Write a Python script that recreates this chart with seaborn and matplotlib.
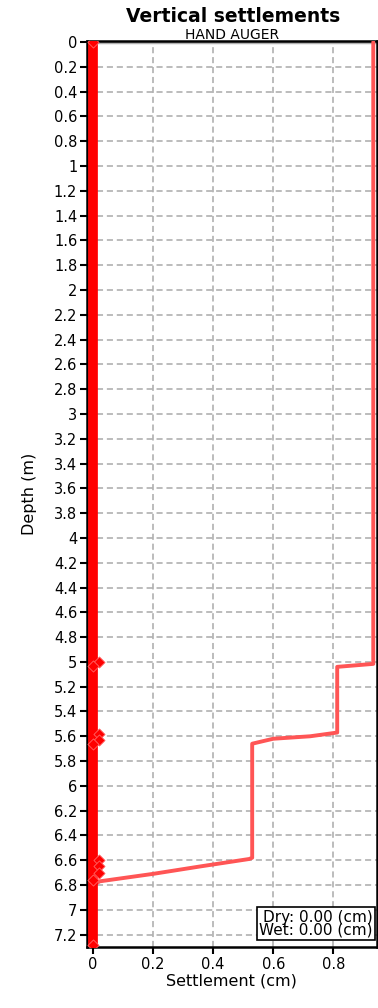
import numpy as np
import pandas as pd
import matplotlib
matplotlib.use("Agg")
import matplotlib.pyplot as plt
import seaborn as sns

# wet settlement profile (pink line)
wet_x = [0.933, 0.933, 0.813, 0.813, 0.723, 0.60, 0.53, 0.53, 0.52, 0.357, 0.20, 0.023, 0.0, 0.0]
wet_depth = [0.0, 5.016, 5.04, 5.57, 5.60, 5.62, 5.66, 6.58, 6.59, 6.65, 6.71, 6.77, 6.80, 7.3]

# dry settlement profile (thick red line at zero)
dry_x = [0.0, 0.0]
dry_depth = [0.0, 7.3]

# diamond markers along the dry profile
mark_x = [0.0, 0.02, 0.0, 0.02, 0.02, 0.0, 0.02, 0.02, 0.02, 0.0, 0.0]
mark_depth = [0.0, 5.0, 5.03, 5.58, 5.63, 5.66, 6.6, 6.65, 6.7, 6.76, 7.28]

xticks = [0, 0.2, 0.4, 0.6, 0.8]
yticks = [round(0.2 * i, 1) for i in range(37)]

sns.set_style("white")
plt.rcParams['font.family'] = ['DejaVu Sans']
plt.rcParams['text.color'] = 'black'
plt.rcParams['axes.labelcolor'] = 'black'
plt.rcParams['xtick.color'] = 'black'
plt.rcParams['ytick.color'] = 'black'

fig = plt.figure(figsize=(3.78, 10.08), dpi=100)
ax = fig.add_axes([0.230, 0.0605, 0.767, 0.899])

wet = pd.DataFrame({"x": wet_x, "depth": wet_depth})
dry = pd.DataFrame({"x": dry_x, "depth": dry_depth})
marks = pd.DataFrame({"x": mark_x, "depth": mark_depth})

ax.axhline(0, color="#b0b0b0", lw=2.5, zorder=1)
sns.lineplot(data=wet, x="x", y="depth", sort=False, estimator=None,
             color="#ff5555", lw=2.8, ax=ax, zorder=3)
sns.lineplot(data=dry, x="x", y="depth", sort=False, estimator=None,
             color="#ff0000", lw=7, ax=ax, zorder=4)
sns.scatterplot(data=marks, x="x", y="depth", marker="D", color="#ff0000",
                s=32, edgecolor="#ff6666", linewidth=0.6, ax=ax, zorder=5)

ax.set_xlim(-0.02, 0.945)
ax.set_ylim(7.3, -0.01)
ax.set_xticks(xticks)
ax.set_xticklabels([f"{v:g}" for v in xticks], fontsize=10.5)
ax.set_yticks(yticks)
ax.set_yticklabels([f"{v:g}" for v in yticks], fontsize=10.5)
ax.grid(True, color="#aaaaaa", ls=(0, (4, 2.5)), lw=1.1)
ax.set_axisbelow(True)
ax.tick_params(axis="both", direction="out", length=5, width=1.5, color="black",
               left=True, bottom=True, pad=2)
for s in ["left", "bottom", "top", "right"]:
    ax.spines[s].set_color("black")
    ax.spines[s].set_linewidth(1.8)

ax.set_xlabel("Settlement (cm)", fontsize=11.5, labelpad=1)
ax.set_ylabel("Depth (m)", fontsize=11.5, labelpad=12)
fig.text(0.618, 0.993, "Vertical settlements", ha="center", va="top",
         fontsize=13.5, fontweight="bold")
ax.text(0.5, 0.999, "HAND AUGER", transform=ax.transAxes, ha="center", va="bottom",
        fontsize=10)
ax.text(0.985, 0.01, "Dry: 0.00 (cm)\nWet: 0.00 (cm)", transform=ax.transAxes,
        ha="right", va="bottom", fontsize=11, linespacing=0.85,
        bbox=dict(boxstyle="square,pad=0.15", fc="white", ec="black", lw=1.2), zorder=10)

fig.savefig("out.png", dpi=100)
